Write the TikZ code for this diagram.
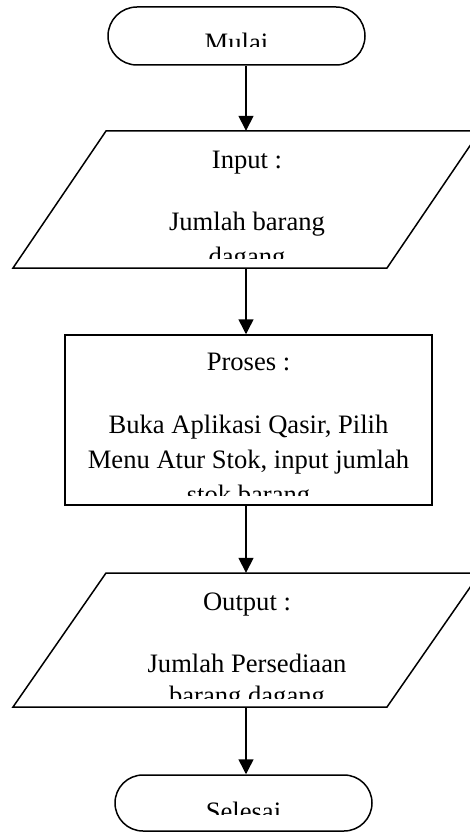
\documentclass[tikz,border=0pt]{standalone}
\usepackage{fontspec}
\setmainfont{Liberation Serif}
\usetikzlibrary{shapes.misc,arrows.meta}
\tikzset{
  term/.style={draw, line width=1.5pt, rounded rectangle, rounded rectangle arc length=180, inner sep=0pt, minimum width=257pt},
  procbox/.style={draw, line width=1.5pt, rectangle, inner sep=0pt, minimum width=367pt, minimum height=170pt},
  anchorbox/.style={inner sep=0pt, minimum width=2pt},
  shapeline/.style={line width=1.5pt, line join=miter},
  arr/.style={line width=1.5pt, -{Triangle[length=15pt,width=15pt]}},
  txt/.style={anchor=base, inner sep=0pt, font=\fontsize{26.6pt}{35pt}\selectfont}
}
\begin{document}
\begin{tikzpicture}[x=1pt,y=-1pt]
\useasboundingbox (0,0) rectangle (470,832);
\clip (0,0) rectangle (470,832);
% terminals and process
\node[term, minimum height=58pt] (mulai) at (236.5,36) {};
\node[procbox] (proses) at (248.5,420) {};
\node[term, minimum height=56pt] (selesai) at (243.5,803) {};
% parallelograms
\node[anchorbox, minimum height=137pt] (input) at (246,199.5) {};
\draw[shapeline] (13,268) -- (387,268) -- (480,131) -- (106,131) -- cycle;
\node[anchorbox, minimum height=134pt] (output) at (246,640) {};
\draw[shapeline] (13,707) -- (387,707) -- (480,573) -- (106,573) -- cycle;
% texts (clipped like the original text boxes)
\begin{scope}
\clip (100,8) rectangle (380,47);
\node[txt] (tmulai) at (236.5,52) {Mulai};
\end{scope}
\begin{scope}
\clip (60,132) rectangle (440,258);
\node[txt] (tin1) at (247,168) {Input :};
\node[txt] (tin2) at (247,230) {Jumlah barang};
\node[txt] (tin3) at (247,265) {dagang};
\end{scope}
\begin{scope}
\clip (66,336) rectangle (431,495);
\node[txt] (tpr1) at (248.5,370) {Proses :};
\node[txt] (tpr2) at (248.5,433) {Buka Aplikasi Qasir, Pilih};
\node[txt] (tpr3) at (248.5,468) {Menu Atur Stok, input jumlah};
\node[txt] (tpr4) at (248.5,503) {stok barang};
\end{scope}
\begin{scope}
\clip (60,574) rectangle (440,698);
\node[txt] (tout1) at (247,610) {Output :};
\node[txt] (tout2) at (247,672) {Jumlah Persediaan};
\node[txt] (tout3) at (247,704) {barang dagang};
\end{scope}
\begin{scope}
\clip (110,776) rectangle (380,814);
\node[txt] (tsel) at (243.5,820) {Selesai};
\end{scope}
% connectors
\draw[arr] (mulai.south -| input.north) -- (input.north);
\draw[arr] (input.south) -- (input.south |- proses.north);
\draw[arr] (proses.south -| output.north) -- (output.north);
\draw[arr] (output.south) -- (output.south |- selesai.north);
\end{tikzpicture}
\end{document}
